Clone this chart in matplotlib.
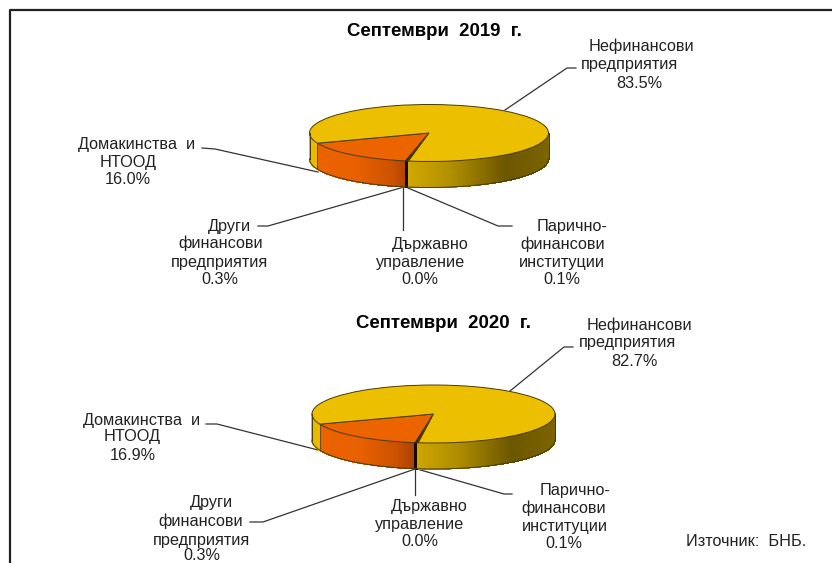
import numpy as np
import matplotlib
matplotlib.use("Agg")
import matplotlib.pyplot as plt
from matplotlib.collections import PolyCollection
from matplotlib.colors import to_rgb

plt.rcParams['font.family'] = ['Liberation Sans', 'DejaVu Sans']

W, H = 832, 563

# data: order is counterclockwise from the start angle of the first slice
sectors = ['Домакинства и НТООД', 'Други финансови предприятия', 'Държавно управление',
           'Парично-финансови институции', 'Нефинансови предприятия']
values_2019 = [16.0, 0.3, 0.0, 0.1, 83.5]
values_2020 = [16.9, 0.3, 0.0, 0.1, 82.7]
title_2019 = 'Септември  2019  г.'
title_2020 = 'Септември  2020  г.'
source_text = 'Източник:  БНБ.'

slice_colors = ['#ec6400', '#1a0c00', '#1a0c00', '#1a0c00', '#ecc000']
# wall shading per slice: x stop on the unit pie, colour at that stop
orange_wall = ([-1.0, -0.6, -0.3, -0.15], ['#ec6400', '#e86000', '#cc5200', '#a84200'])
yellow_wall = ([-1.0, -0.2, 0.2, 0.65, 1.0], ['#e8bc00', '#d4aa00', '#b08e00', '#6c5600', '#7c6400'])
dark_wall = ([-1.0, 1.0], ['#120800', '#120800'])
wall_shades = [orange_wall, dark_wall, dark_wall, dark_wall, yellow_wall]


def px_axes(cx, cy, rx, ry):
    return fig.add_axes([(cx - rx) / W, 1 - (cy + ry) / H, 2 * rx / W, 2 * ry / H])


def pie3d(values, start, cx, cy, rx, ry, depth):
    a = px_axes(cx, cy, rx, ry)
    wedges, _ = a.pie(values, startangle=start, colors=slice_colors, radius=1.0,
                      wedgeprops=dict(edgecolor='#4a3a00', linewidth=0.7))
    a.set_aspect('auto')
    a.set_xlim(-1, 1)
    a.set_ylim(-1, 1)
    a.patch.set_alpha(0)
    d = depth / ry
    for w, shade in zip(wedges, wall_shades):
        t = np.arange(w.theta1, w.theta2 + 0.5, 0.5)
        t = np.clip(t, w.theta1, w.theta2)
        polys = []
        cols = []
        for t0, t1 in zip(t[:-1], t[1:]):
            if np.sin(np.radians((t0 + t1) / 2)) > 0:
                continue
            x0, y0 = np.cos(np.radians(t0)), np.sin(np.radians(t0))
            x1, y1 = np.cos(np.radians(t1)), np.sin(np.radians(t1))
            polys.append([(x0, y0), (x1, y1), (x1, y1 - d), (x0, y0 - d)])
            xm = (x0 + x1) / 2
            rgb = [to_rgb(c) for c in shade[1]]
            cols.append([np.interp(xm, shade[0], [c[i] for c in rgb]) for i in range(3)])
        if polys:
            a.add_collection(PolyCollection(polys, facecolors=cols, edgecolors=cols,
                                            linewidths=0.4, clip_on=False, zorder=0.5,
                                            antialiaseds=False))
    # dark rim of the wall
    t = np.radians(np.linspace(180, 360, 181))
    a.plot(np.cos(t), np.sin(t) - d, color='#4a3a00', lw=0.7, clip_on=False, zorder=3)
    a.plot([-1, -1], [0, -d], color='#4a3a00', lw=0.7, clip_on=False, zorder=3)
    a.plot([1, 1], [0, -d], color='#4a3a00', lw=0.7, clip_on=False, zorder=3)
    for w in wedges:
        w.set_clip_on(False)
        w.set_zorder(2)
    # edge where the orange slice meets the side wall
    b = np.radians(wedges[0].theta1)
    a.plot([np.cos(b)] * 2, [np.sin(b), np.sin(b) - d], color='#6a4a00', lw=0.7, clip_on=False, zorder=3)
    a.axis('off')


fig = plt.figure(figsize=(W / 100, H / 100), dpi=100, facecolor='white')
ax = fig.add_axes([0, 0, 1, 1])
ax.set_xlim(0, W)
ax.set_ylim(H, 0)
ax.axis('off')

# frame: only top and left
ax.plot([9.5, 9.5, W], [H, 9.5, 9.5], color='#222222', lw=1.6)

pie3d(values_2019, 201, 429, 133, 119.5, 28.5, 26)
pie3d(values_2020, 200.5, 433.5, 414, 121.5, 29, 26)

# leader lines
leaders = [
    [(505, 110), (567, 68), (576, 68)],
    [(202, 148), (215, 149), (318, 172)],
    [(258, 226), (268, 226), (404, 187)],
    [(403, 187), (403, 230)],
    [(408, 188), (498, 226), (512, 226)],
    [(510, 391), (564, 347), (573, 347)],
    [(206, 424), (217, 424), (318, 450)],
    [(250, 522), (263, 522), (415, 469)],
    [(415, 469), (415, 495)],
    [(417, 469), (504, 494), (512, 494)],
]
for pts in leaders:
    ax.plot([p[0] for p in pts], [p[1] for p in pts], color='#333333', lw=0.9, zorder=1)

# labels, one line at a time since the original lines are not aligned
labels = [
    ('Нефинансови', 641, 46), ('предприятия', 630, 65), ('83.5%', 639, 83),
    ('Домакинства  и', 137, 145), ('НТООД', 128, 162), ('16.0%', 128, 180),
    ('Други', 229, 226), ('финансови', 221, 243), ('предприятия', 220, 262), ('0.3%', 220, 279),
    ('Държавно', 430, 244), ('управление', 421, 263), ('0.0%', 420, 279),
    ('Парично-', 572, 226), ('финансови', 563, 244), ('институции', 562, 262), ('0.1%', 562, 279),
    ('Нефинансови', 639, 325), ('предприятия', 628, 343), ('82.7%', 634, 361),
    ('Домакинства  и', 142, 420), ('НТООД', 132, 437), ('16.9%', 133, 455),
    ('Други', 211, 503), ('финансови', 201, 521), ('предприятия', 202, 540), ('0.3%', 202, 556),
    ('Държавно', 429, 507), ('управление', 420, 525), ('0.0%', 420, 542),
    ('Парично-', 575, 490), ('финансови', 564, 508), ('институции', 565, 526), ('0.1%', 564, 543),
]
for txt, x, y in labels:
    ax.text(x, y, txt, ha='center', va='center', fontsize=11.7, color='#222222')

ax.text(434, 31, title_2019, ha='center', va='center', fontsize=13.4, fontweight='bold', color='black')
ax.text(443, 323, title_2020, ha='center', va='center', fontsize=13.4, fontweight='bold', color='black')
ax.text(746, 541, source_text, ha='center', va='center', fontsize=11.7, color='#222222')

fig.savefig('out.png', dpi=100)
